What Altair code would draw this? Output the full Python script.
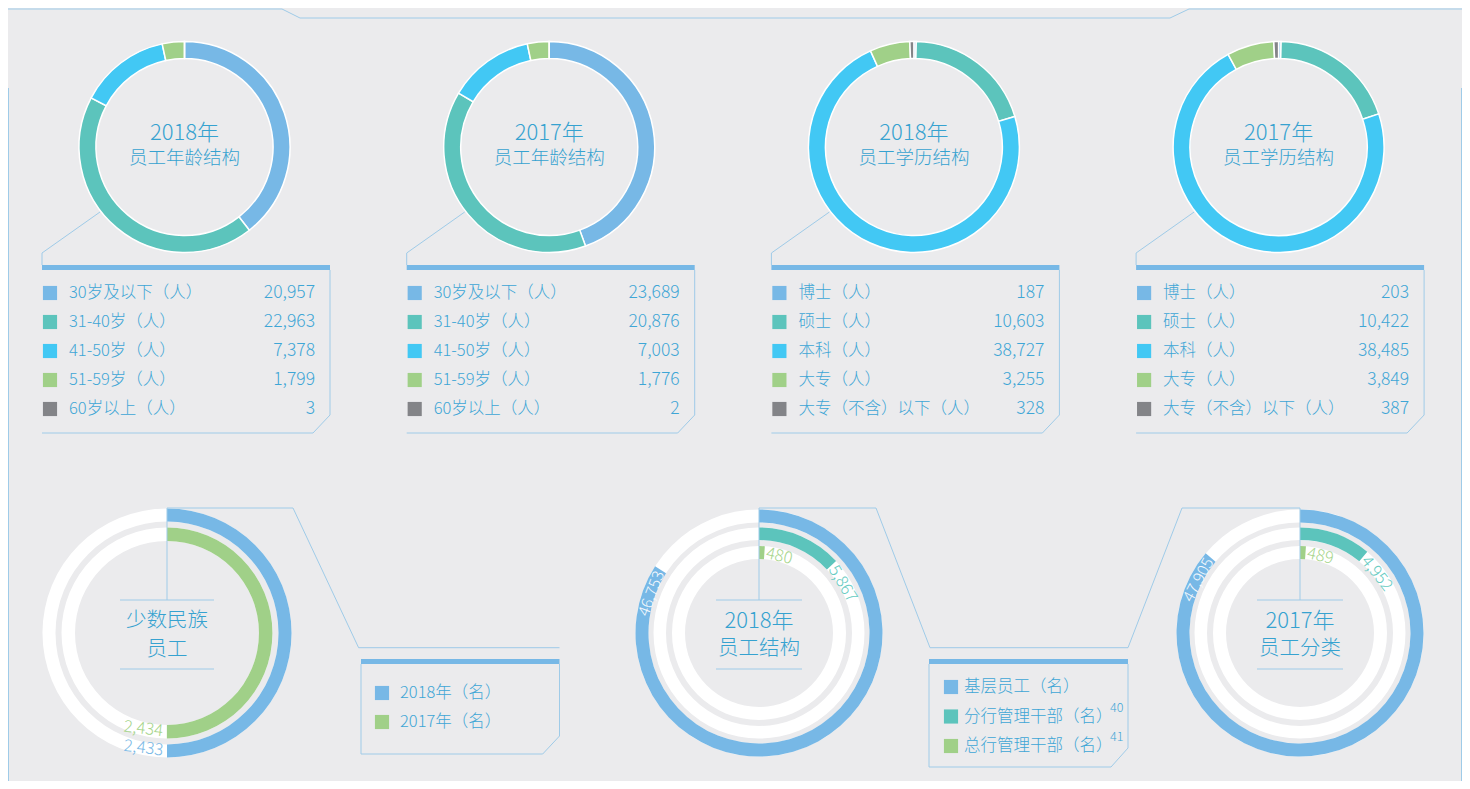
import math
import altair as alt
import pandas as pd

# ---------------- data ----------------
age_labels = ["30岁及以下（人）", "31-40岁（人）", "41-50岁（人）", "51-59岁（人）", "60岁以上（人）"]
age_2018 = [20957, 22963, 7378, 1799, 3]
age_2017 = [23689, 20876, 7003, 1776, 2]
edu_labels = ["博士（人）", "硕士（人）", "本科（人）", "大专（人）", "大专（不含）以下（人）"]
edu_2018 = [187, 10603, 38727, 3255, 328]
edu_2017 = [203, 10422, 38485, 3849, 387]
donut_years = ["2018年", "2017年", "2018年", "2017年"]
donut_names = ["员工年龄结构", "员工年龄结构", "员工学历结构", "员工学历结构"]

minority_labels = ["2018年（名）", "2017年（名）"]
minority_values = [2433, 2434]
minority_ring_max = [4866, 4866]
minority_title = ["少数民族", "员工"]

struct_labels = ["基层员工（名）", "分行管理干部（名）", "总行管理干部（名）"]
struct_notes = ["", "40", "41"]
struct_2018 = [46753, 5867, 480]
struct_2017 = [47905, 4952, 489]
struct_ring_max = [55600, 45000, 45000]
struct_years = ["2018年", "2017年"]
struct_names = ["员工结构", "员工分类"]

# ---------------- style ----------------
PALETTE = ["#77b8e6", "#5cc4bc", "#42c8f4", "#a0d088", "#838488"]
TEXT = "#3ea6d6"
TITLE = "#36a2d0"
LINE = "#9fcbe8"
BG = "#ebebed"
FONT = "Noto Sans CJK SC"
WEIGHT = 300
W, H = 1454, 773
TAU = 2 * math.pi


def C(v):
    return v - 8


color_enc = alt.Color("k:N", scale=alt.Scale(domain=[str(i) for i in range(5)], range=PALETTE), legend=None)
dummy = pd.DataFrame({"d": [0]})
L = []


def seg(x1, y1, x2, y2, color=LINE, w=1):
    return alt.Chart(dummy).mark_rule(color=color, strokeWidth=w).encode(
        x=alt.value(C(x1)), y=alt.value(C(y1)), x2=alt.value(C(x2)), y2=alt.value(C(y2)))


def poly(pts, color=LINE):
    for a, b in zip(pts[:-1], pts[1:]):
        L.append(seg(a[0], a[1], b[0], b[1], color))


def rect(x1, y1, x2, y2, color):
    L.append(alt.Chart(dummy).mark_rect(color=color).encode(
        x=alt.value(C(x1)), y=alt.value(C(y1)), x2=alt.value(C(x2)), y2=alt.value(C(y2))))


def label(x, y, s, size, color=TITLE, align="center", weight=WEIGHT):
    L.append(alt.Chart(dummy).mark_text(font=FONT, fontSize=size, color=color, align=align,
                                         baseline="middle", fontWeight=weight).encode(
        x=alt.value(C(x)), y=alt.value(C(y)), text=alt.value(s)))


def white_ring(cx, cy, r1, r2):
    L.append(alt.Chart(dummy).mark_arc(radius=r1, radius2=r2, theta=0, theta2=TAU, color="white").encode(
        x=alt.value(C(cx)), y=alt.value(C(cy))))


# ---------------- frame ----------------
L.append(alt.Chart(dummy).mark_rule(color=LINE).encode(x=alt.value(0.5), y=alt.value(80), y2=alt.value(H)))
L.append(alt.Chart(dummy).mark_rule(color=LINE).encode(x=alt.value(W - 0.5), y=alt.value(80), y2=alt.value(H)))
poly([(8, 9), (282, 9), (300, 18), (1170, 18), (1189, 9), (1470, 9)])

# ---------------- top donuts ----------------
for k in range(4):
    ox = 364.7 * k
    cx, cy = 184.5 + ox, 147
    labels = age_labels if k < 2 else edu_labels
    values = [age_2018, age_2017, edu_2018, edu_2017][k]
    df = pd.DataFrame({"label": labels, "value": values,
                       "k": [str(i) for i in range(5)], "i": list(range(5))})
    L.append(alt.Chart(df).mark_arc(radius=105.5, radius2=88.5, stroke="white", strokeWidth=1.5).encode(
        theta=alt.Theta("value:Q", stack="normalize"),
        order=alt.Order("i:Q"),
        color=color_enc,
        x=alt.value(C(cx)), y=alt.value(C(cy))))
    label(cx, 133, donut_years[k], 22)
    label(cx, 158, donut_names[k], 18.5)

    # legend box
    poly([(100 + ox, 212), (42 + ox, 253), (42 + ox, 265)])
    rect(42 + ox, 265, 330 + ox, 270, "#77b8e6")
    poly([(330 + ox, 270), (330 + ox, 415), (313 + ox, 433), (42 + ox, 433)])
    yenc = alt.Y("i:Q", scale=alt.Scale(domain=[0, 4], range=[C(293), C(409)]), axis=None)
    L.append(alt.Chart(df).mark_square(size=200, opacity=1).encode(
        x=alt.value(C(50 + ox)), y=yenc, color=color_enc))
    L.append(alt.Chart(df).mark_text(font=FONT, fontSize=16.5, fontWeight=WEIGHT, color=TEXT,
                                     align="left", baseline="middle").encode(
        x=alt.value(C(69 + ox)), y=yenc, text="label:N"))
    L.append(alt.Chart(df).mark_text(font=FONT, fontSize=17.5, fontWeight=WEIGHT, color=TEXT,
                                     align="right", baseline="middle").encode(
        x=alt.value(C(315 + ox)), y=yenc, text=alt.Text("value:Q", format=",")))


# ---------------- ring helper ----------------
def value_ring(df, cx, cy, r1, r2, mx):
    L.append(alt.Chart(df).mark_arc(radius=r1, radius2=r2).encode(
        theta=alt.Theta("value:Q", stack=True, scale=alt.Scale(domain=[0, mx], range=[0, TAU])),
        color=color_enc, x=alt.value(C(cx)), y=alt.value(C(cy))))


def ring_label(df, cx, cy, r, mx, color, align, angle_expr, dx, size=16.5):
    L.append(alt.Chart(df).transform_calculate(ang=angle_expr).mark_text(
        font=FONT, fontSize=size, fontWeight=300, color=color, align=align, baseline="middle",
        radius=r, dx=dx).encode(
        theta=alt.Theta("value:Q", stack=False, scale=alt.Scale(domain=[0, mx], range=[0, TAU])),
        angle=alt.Angle("ang:Q", scale=None),
        x=alt.value(C(cx)), y=alt.value(C(cy)),
        text=alt.Text("value:Q", format=",")))


# ---------------- minority ----------------
mcx, mcy = 167, 633
m_radii = [(124.5, 111.5), (105.5, 92)]
m_keys = ["0", "3"]
m_text_col = ["#7ab9e6", "#a6d58c"]
for j in range(2):
    white_ring(mcx, mcy, *m_radii[j])
for j in range(2):
    dfj = pd.DataFrame({"label": [minority_labels[j]], "value": [minority_values[j]], "k": [m_keys[j]]})
    value_ring(dfj, mcx, mcy, m_radii[j][0], m_radii[j][1], minority_ring_max[j])
    ring_label(dfj, mcx, mcy, (m_radii[j][0] + m_radii[j][1]) / 2, minority_ring_max[j],
               m_text_col[j], "right", "7", -4, 16.5)
poly([(mcx, 508), (mcx, 600)])
poly([(120, 600), (214, 600)])
poly([(120, 669), (214, 669)])
label(mcx, 620.5, minority_title[0], 20.5)
label(mcx, 649.5, minority_title[1], 20.5)
poly([(mcx, 508), (293, 508), (358.6, 647.7), (559.5, 647.7)])
rect(361, 659, 559.5, 664, "#77b8e6")
poly([(361, 664), (361, 754), (542.7, 754), (559.5, 736), (559.5, 664)])
dfm = pd.DataFrame({"label": minority_labels, "k": m_keys, "i": [0, 1]})
ym = alt.Y("i:Q", scale=alt.Scale(domain=[0, 1], range=[C(693), C(722)]), axis=None)
L.append(alt.Chart(dfm).mark_square(size=200, opacity=1).encode(x=alt.value(C(382)), y=ym, color=color_enc))
L.append(alt.Chart(dfm).mark_text(font=FONT, fontSize=16.5, fontWeight=WEIGHT, color=TEXT,
                                  align="left", baseline="middle").encode(
    x=alt.value(C(400)), y=ym, text="label:N"))

# ---------------- staff structure ----------------
s_radii = [(123.5, 110.5), (105.5, 93), (87, 74)]
s_keys = ["0", "1", "3"]
s_text_col = ["#f4f9fd", "#66cbc2", "#a6d58c"]
s_angle_off = [-12, 12, 9]
for n, (cx, vals) in enumerate([(759, struct_2018), (1300, struct_2017)]):
    cy = 633
    for j in range(3):
        white_ring(cx, cy, *s_radii[j])
    for j in range(3):
        dfj = pd.DataFrame({"label": [struct_labels[j]], "value": [vals[j]], "k": [s_keys[j]]})
        mx = struct_ring_max[j]
        value_ring(dfj, cx, cy, s_radii[j][0], s_radii[j][1], mx)
        rr = (s_radii[j][0] + s_radii[j][1]) / 2
        expr = f"datum.value / {mx} * 360 + ({s_angle_off[j]})"
        if j == 0:
            ring_label(dfj, cx, cy, rr, mx, s_text_col[j], "right", expr, -2, 16)
        else:
            ring_label(dfj, cx, cy, rr, mx, s_text_col[j], "left", expr, 2, 16.5)
    poly([(cx, 508), (cx, 600)])
    poly([(cx - 43, 600), (cx + 43, 600)])
    poly([(cx - 43, 669), (cx + 43, 669)])
    label(cx, 621, struct_years[n], 22)
    label(cx, 649, struct_names[n], 20.5)

poly([(759, 508), (876, 508), (930, 647.7), (1128, 647.7), (1182, 508), (1300, 508)])
rect(929, 659, 1128, 664, "#77b8e6")
poly([(929, 664), (929, 767), (1111, 767), (1128, 748), (1128, 664)])
dfs = pd.DataFrame({"label": struct_labels, "note": struct_notes, "k": s_keys, "i": [0, 1, 2]})
ys = alt.Y("i:Q", scale=alt.Scale(domain=[0, 2], range=[C(687), C(746)]), axis=None)
L.append(alt.Chart(dfs).mark_square(size=200, opacity=1).encode(x=alt.value(C(951)), y=ys, color=color_enc))
L.append(alt.Chart(dfs).mark_text(font=FONT, fontSize=16.5, fontWeight=WEIGHT, color=TEXT,
                                  align="left", baseline="middle").encode(
    x=alt.value(C(964)), y=ys, text="label:N"))
L.append(alt.Chart(dfs).mark_text(font=FONT, fontSize=12.5, fontWeight=WEIGHT, color=TEXT,
                                  align="left", baseline="middle", dy=-9).encode(
    x=alt.value(C(1110)), y=ys, text="note:N"))

chart = alt.layer(*L).resolve_scale(theta="independent", x="independent", y="independent").properties(
    width=W, height=H, autosize=alt.AutoSizeParams(type="none"), padding=0, background=BG
).configure_view(stroke=None)

chart.save("out.html", embed_options={"renderer": "svg", "actions": False})
